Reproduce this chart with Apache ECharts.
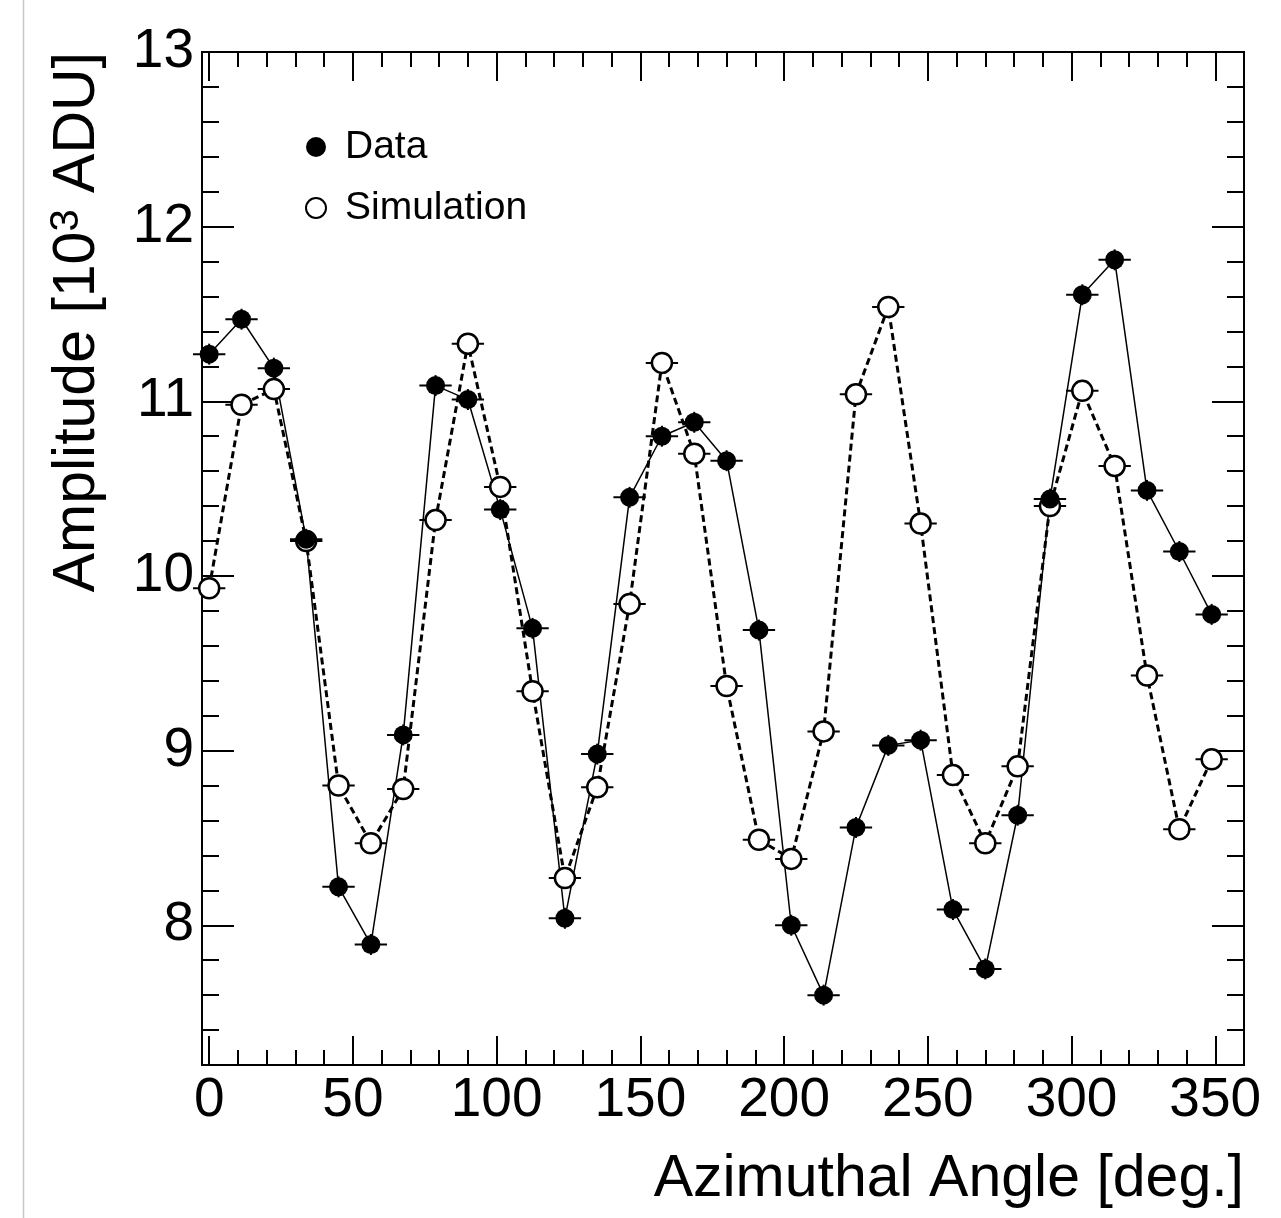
<!DOCTYPE html>
<html><head><meta charset="utf-8">
<script src="https://cdn.jsdelivr.net/npm/echarts@6/dist/echarts.min.js"></script>
<style>html,body{margin:0;padding:0;background:#fff}#c{width:1281px;height:1218px}</style>
</head><body><div id="c"></div>
<script>
const angles = [0, 11.25, 22.5, 33.75, 45, 56.25, 67.5, 78.75, 90, 101.25, 112.5, 123.75, 135, 146.25, 157.5, 168.75,
  180, 191.25, 202.5, 213.75, 225, 236.25, 247.5, 258.75, 270, 281.25, 292.5, 303.75, 315, 326.25, 337.5, 348.75];
const dataAmp = [11.27, 11.47, 11.19, 10.21, 8.22, 7.89, 9.09, 11.09, 11.01, 10.38, 9.70, 8.04, 8.98, 10.45, 10.80, 10.88,
  10.66, 9.69, 8.00, 7.60, 8.56, 9.03, 9.06, 8.09, 7.75, 8.63, 10.44, 11.61, 11.81, 10.49, 10.14, 9.78];
const simAmp = [9.93, 10.98, 11.07, 10.20, 8.80, 8.47, 8.78, 10.32, 11.33, 10.51, 9.34, 8.27, 8.79, 9.84, 11.22, 10.70,
  9.37, 8.49, 8.38, 9.11, 11.04, 11.54, 10.30, 8.86, 8.47, 8.91, 10.40, 11.06, 10.63, 9.43, 8.55, 8.95];
const xMajorTicks = [0, 50, 100, 150, 200, 250, 300, 350];
const xMinorTicks = [10, 20, 30, 40, 60, 70, 80, 90, 110, 120, 130, 140, 160, 170, 180, 190, 210, 220, 230, 240,
  260, 270, 280, 290, 310, 320, 330, 340];
const yMajorTicks = [8, 9, 10, 11, 12, 13];
const yMinorTicks = [7.4, 7.6, 7.8, 8.2, 8.4, 8.6, 8.8, 9.2, 9.4, 9.6, 9.8, 10.2, 10.4, 10.6, 10.8, 11.2, 11.4, 11.6, 11.8, 12.2, 12.4, 12.6, 12.8];
const xTitle = 'Azimuthal Angle [deg.]';
const yTitleParts = ['Amplitude [10', '3', ' ADU]'];
const binHalf = 5.625;

const FF = "'Liberation Sans', Arial, Helvetica, sans-serif";
const X_MIN = -2.5, X_MAX = 360, Y_MIN = 7.2, Y_MAX = 13;

function xAx(pos, ticks, len, labels) {
  return {
    type: 'value', position: pos, min: X_MIN, max: X_MAX, gridIndex: 0,
    axisLine: { show: true, onZero: false, lineStyle: { color: '#000', width: 2 } },
    axisTick: { show: true, inside: true, length: len, customValues: ticks, lineStyle: { color: '#000', width: 2 } },
    axisLabel: labels ? { show: true, customValues: ticks, fontSize: 55, fontFamily: FF, color: '#000', margin: 8 } : { show: false },
    splitLine: { show: false }
  };
}
function yAx(pos, ticks, len, labels) {
  return {
    type: 'value', position: pos, min: Y_MIN, max: Y_MAX, gridIndex: 0,
    axisLine: { show: true, onZero: false, lineStyle: { color: '#000', width: 2 } },
    axisTick: { show: true, inside: true, length: len, customValues: ticks, lineStyle: { color: '#000', width: 2 } },
    axisLabel: labels ? { show: true, customValues: ticks, fontSize: 55, fontFamily: FF, color: '#000', margin: 8 } : { show: false },
    splitLine: { show: false }
  };
}

function errBars(vals) {
  return {
    type: 'custom', xAxisIndex: 0, yAxisIndex: 0, silent: true,
    data: angles.map((a, i) => [a, vals[i]]),
    renderItem: function (params, api) {
      const x = api.value(0), y = api.value(1);
      const a = api.coord([x - binHalf, y]), b = api.coord([x + binHalf, y]);
      const c = api.coord([x, y + 0.06]), d = api.coord([x, y - 0.06]);
      return {
        type: 'group', children: [
          { type: 'line', shape: { x1: a[0], y1: a[1], x2: b[0], y2: b[1] }, style: { stroke: '#000', lineWidth: 2 } },
          { type: 'line', shape: { x1: c[0], y1: c[1], x2: d[0], y2: d[1] }, style: { stroke: '#000', lineWidth: 2 } }
        ]
      };
    }
  };
}

const chart = echarts.init(document.getElementById('c'), null, { renderer: 'canvas' });
chart.setOption({
  animation: false,
  backgroundColor: '#fff',
  grid: { left: 202, right: 37, top: 52, bottom: 153, containLabel: false },
  xAxis: [
    xAx('bottom', xMajorTicks, 29, true),
    xAx('bottom', xMinorTicks, 15, false),
    xAx('top', xMajorTicks, 29, false),
    xAx('top', xMinorTicks, 15, false)
  ],
  yAxis: [
    yAx('left', yMajorTicks, 32, true),
    yAx('left', yMinorTicks, 17, false),
    yAx('right', yMajorTicks, 32, false),
    yAx('right', yMinorTicks, 17, false)
  ],
  legend: {
    orient: 'vertical', left: 300, top: 122, itemWidth: 20, itemHeight: 20, itemGap: 21,
    textStyle: { fontSize: 39, fontFamily: FF, color: '#000', lineHeight: 40, padding: [0, 0, 0, 14] },
    data: [{ name: 'Data', icon: 'circle' }, { name: 'Simulation', icon: 'circle' }]
  },
  series: [
    Object.assign(errBars(simAmp), { name: 'simErr' }),
    {
      name: 'Simulation', type: 'line', xAxisIndex: 0, yAxisIndex: 0,
      data: angles.map((a, i) => [a, simAmp[i]]),
      symbol: 'circle', symbolSize: 20,
      lineStyle: { color: '#000', width: 3, type: [7, 4] },
      itemStyle: { color: '#fff', borderColor: '#000', borderWidth: 2.5 }
    },
    Object.assign(errBars(dataAmp), { name: 'dataErr' }),
    {
      name: 'Data', type: 'line', xAxisIndex: 0, yAxisIndex: 0,
      data: angles.map((a, i) => [a, dataAmp[i]]),
      symbol: 'circle', symbolSize: 19,
      lineStyle: { color: '#000', width: 1.5, type: 'solid' },
      itemStyle: { color: '#000', borderColor: '#000', borderWidth: 0 }
    }
  ],
  graphic: [
    { type: 'line', shape: { x1: 23.5, y1: 0, x2: 23.5, y2: 1218 }, style: { stroke: '#c8c8c8', lineWidth: 1.5 }, silent: true },
    { type: 'text', x: 1244, y: 1180, style: { text: xTitle, font: "59px " + FF, fill: '#000', textAlign: 'right', textVerticalAlign: 'middle' } },
    {
      type: 'text', x: 78, y: 52, rotation: Math.PI / 2,
      style: {
        text: '{a|' + yTitleParts[0] + '}{s|' + yTitleParts[1] + '}{a|' + yTitleParts[2] + '}',
        textAlign: 'right', textVerticalAlign: 'middle',
        rich: {
          a: { fontSize: 59, fontFamily: FF, fill: '#000', color: '#000', lineHeight: 62, verticalAlign: 'middle' },
          s: { fontSize: 40, fontFamily: FF, fill: '#000', color: '#000', lineHeight: 40, verticalAlign: 'top' }
        }
      }
    }
  ]
});
</script>
</body></html>
